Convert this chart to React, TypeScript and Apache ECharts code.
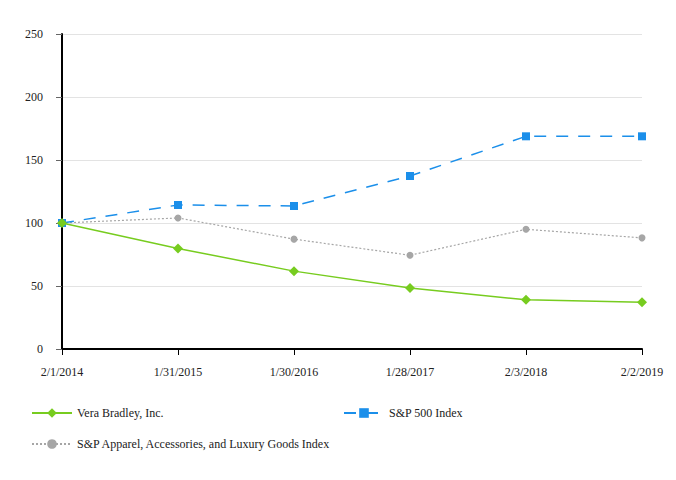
import React, { useEffect, useRef } from "react";
import * as echarts from "echarts";

const categories = ["2/1/2014", "1/31/2015", "1/30/2016", "1/28/2017", "2/3/2018", "2/2/2019"];
const veraBradley = [100, 79.8, 61.8, 48.4, 39.0, 37.2];
const sp500 = [100, 114.3, 113.5, 137.3, 168.8, 168.8];
const apparel = [100, 104.0, 87.2, 74.4, 95.0, 88.2];
const yTicks = { min: 0, max: 250, interval: 50 };

const FONT = "'Liberation Serif', 'Times New Roman', serif";
const GREEN = "#77cc1f";
const BLUE = "#1b8fea";
const GRAY = "#a6a6a6";

export default function App() {
  const ref = useRef<HTMLDivElement>(null);
  useEffect(() => {
    const chart = echarts.init(ref.current!, null, { renderer: "svg" });
    const legendText = { fontFamily: FONT, fontSize: 12, color: "#222" };
    const legendBase = { itemWidth: 40, itemHeight: 12, itemGap: 10, textStyle: legendText };
    chart.setOption({
      animation: false,
      textStyle: { fontFamily: FONT },
      grid: { left: 62, right: 34, top: 34, bottom: 131, containLabel: false },
      legend: [
        { ...legendBase, data: ["Vera Bradley, Inc."], left: 26, top: 402 },
        { ...legendBase, data: ["S&P 500 Index"], left: 338, top: 402 },
        { ...legendBase, data: ["S&P Apparel, Accessories, and Luxury Goods Index"], left: 26, top: 433 },
      ],
      xAxis: {
        type: "category",
        data: categories,
        boundaryGap: false,
        axisLine: { lineStyle: { color: "#000", width: 2 } },
        axisTick: { show: true, length: 6, lineStyle: { color: "#000" }, alignWithLabel: true },
        axisLabel: { fontFamily: FONT, fontSize: 12, color: "#222", margin: 17 },
        splitLine: { show: false },
      },
      yAxis: {
        type: "value",
        min: yTicks.min,
        max: yTicks.max,
        interval: yTicks.interval,
        axisLine: { show: true, lineStyle: { color: "#000", width: 2 } },
        axisTick: { show: true, length: 6, lineStyle: { color: "#666" } },
        axisLabel: { fontFamily: FONT, fontSize: 12, color: "#222", margin: 19 },
        splitLine: { show: true, lineStyle: { color: "#e3e3e3", width: 1 } },
      },
      series: [
        {
          name: "Vera Bradley, Inc.",
          type: "line",
          data: veraBradley,
          symbol: "diamond",
          symbolSize: 10,
          itemStyle: { color: GREEN },
          lineStyle: { color: GREEN, width: 1.5, type: "solid" },
          z: 4,
        },
        {
          name: "S&P 500 Index",
          type: "line",
          data: sp500,
          symbol: "rect",
          symbolSize: 8,
          itemStyle: { color: BLUE },
          lineStyle: { color: BLUE, width: 1.5, type: [12, 10] },
          z: 3,
        },
        {
          name: "S&P Apparel, Accessories, and Luxury Goods Index",
          type: "line",
          data: apparel,
          symbol: "circle",
          symbolSize: 7,
          itemStyle: { color: GRAY },
          lineStyle: { color: GRAY, width: 1.2, type: [2, 2] },
          z: 2,
        },
      ],
    });
    return () => chart.dispose();
  }, []);
  return <div ref={ref} style={{ width: 676, height: 480, margin: -8 }} />;
}
